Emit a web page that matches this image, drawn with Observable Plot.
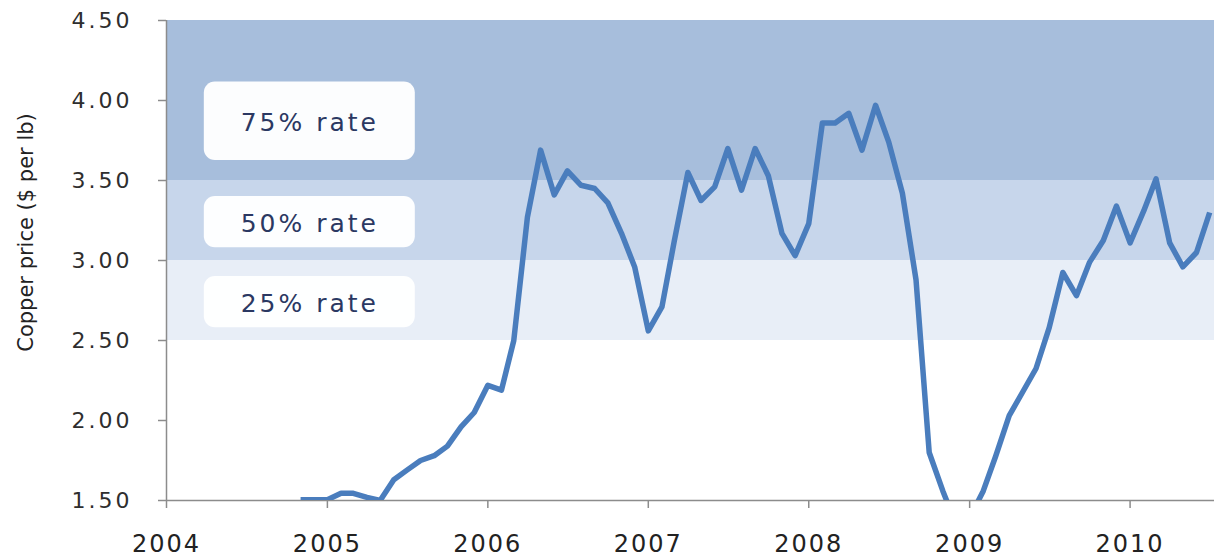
<!DOCTYPE html>
<html>
<head>
<meta charset="utf-8">
<script src="https://cdn.jsdelivr.net/npm/d3@7"></script>
<script src="https://cdn.jsdelivr.net/npm/@observablehq/plot@0.6"></script>
<style>
  html, body { margin: 0; padding: 0; background: #ffffff; }
  #chart svg { display: block; }
  g[aria-label="y-axis tick label"] text { letter-spacing: 3px; }
  g[aria-label="x-axis tick label"] text { letter-spacing: 2px; }
</style>
</head>
<body>
<div id="chart"></div>
<script>
// ---- Data ----
const months = [
  "2004-11","2004-12",
  "2005-01","2005-02","2005-03","2005-04","2005-05","2005-06","2005-07","2005-08","2005-09","2005-10","2005-11","2005-12",
  "2006-01","2006-02","2006-03","2006-04","2006-05","2006-06","2006-07","2006-08","2006-09","2006-10","2006-11","2006-12",
  "2007-01","2007-02","2007-03","2007-04","2007-05","2007-06","2007-07","2007-08","2007-09","2007-10","2007-11","2007-12",
  "2008-01","2008-02","2008-03","2008-04","2008-05","2008-06","2008-07","2008-08","2008-09","2008-10","2008-11","2008-12",
  "2009-01","2009-02","2009-03","2009-04","2009-05","2009-06","2009-07","2009-08","2009-09","2009-10","2009-11","2009-12",
  "2010-01","2010-02","2010-03","2010-04","2010-05","2010-06","2010-07"
];
const copperPrice = [
  1.505, 1.505,
  1.505, 1.545, 1.545, 1.52, 1.50, 1.63, 1.69, 1.75, 1.78, 1.84, 1.96, 2.05,
  2.22, 2.19, 2.50, 3.27, 3.69, 3.41, 3.56, 3.47, 3.45, 3.36, 3.17, 2.96,
  2.56, 2.71, 3.12, 3.55, 3.375, 3.46, 3.70, 3.44, 3.70, 3.53, 3.17, 3.03,
  3.23, 3.86, 3.86, 3.92, 3.69, 3.97, 3.74, 3.42, 2.88, 1.80, 1.56, 1.35,
  1.39, 1.56, 1.775, 2.03, 2.175, 2.325, 2.58, 2.925, 2.78, 2.99, 3.125, 3.34,
  3.11, 3.31, 3.51, 3.11, 2.96, 3.05, 3.30
];
const yearTicks = ["2004","2005","2006","2007","2008","2009","2010"];
const yTicks = [1.5, 2.0, 2.5, 3.0, 3.5, 4.0, 4.5];
const bandNames = ["25% rate", "50% rate", "75% rate"];
const bandLow  = [2.5, 3.0, 3.5];
const bandHigh = [3.0, 3.5, 4.5];
const yLabel = "Copper price ($ per lb)";

// ---- Build tables ----
const parseMonth = d3.utcParse("%Y-%m");
const parseYear = d3.utcParse("%Y");
const series = months.map((m, i) => ({date: parseMonth(m), price: copperPrice[i]}));
const bands = bandNames.map((name, i) => ({name, lo: bandLow[i], hi: bandHigh[i]}));

// layout (annotation placement)
const xStart = new Date(Date.UTC(2004, 0, 1));
const xEnd = new Date(Date.UTC(2010, 6, 12));
const boxX1 = new Date(Date.UTC(2004, 2, 27));
const boxX2 = new Date(Date.UTC(2005, 6, 20));
const boxCenter = [2.74, 3.24, 3.87];
const boxHalf = [0.16, 0.16, 0.245];
const bandColors = ["#e8eef7", "#c7d6eb", "#a7bedc"];
const labels = bands.map((b, i) => ({name: b.name, c: boxCenter[i], h: boxHalf[i]}));
const boxMid = new Date((+boxX1 + +boxX2) / 2);

const chart = Plot.plot({
  width: 1214,
  height: 558,
  marginLeft: 166,
  marginRight: 0,
  marginTop: 20,
  marginBottom: 58,
  style: {fontFamily: "'DejaVu Sans', Verdana, sans-serif", background: "transparent"},
  x: {type: "utc", domain: [xStart, xEnd]},
  y: {domain: [1.5, 4.5]},
  marks: [
    Plot.rect(bands, {
      x1: () => xStart, x2: () => xEnd,
      y1: "lo", y2: "hi",
      fill: (d, i) => bandColors[i]
    }),
    Plot.rect(labels, {
      x1: () => boxX1, x2: () => boxX2,
      y1: d => d.c - d.h, y2: d => d.c + d.h,
      fill: "#ffffff", fillOpacity: 0.96, rx: 11
    }),
    Plot.text(labels, {
      x: () => boxMid, y: "c", dy: 2,
      text: "name", fontSize: 25, fill: "#2b3862"
    }),
    // axes
    Plot.ruleX([xStart], {stroke: "#8c8c8c", strokeWidth: 1.5}),
    Plot.ruleY([1.5], {stroke: "#8c8c8c", strokeWidth: 1.5}),
    Plot.axisY({ticks: yTicks, tickSize: 8, tickPadding: 26, tickFormat: d3.format(".2f"),
      stroke: "#8c8c8c", strokeWidth: 1.5,
      fontSize: 22, fill: "#2e2e2e", label: null}),
    Plot.axisX({ticks: yearTicks.map(parseYear), tickSize: 8, stroke: "#8c8c8c", strokeWidth: 1.5,
      tickPadding: 26, tickFormat: d3.utcFormat("%Y"), fontSize: 24, fill: "#222222", label: null}),
    // the price line
    Plot.line(series, {x: "date", y: "price", stroke: "#4a7dbd", strokeWidth: 5.5,
      strokeLinejoin: "round", strokeLinecap: "butt", clip: true}),
    // y axis title
    Plot.text([yLabel], {frameAnchor: "left", textAnchor: "middle", dx: -140, dy: -28, rotate: -90,
      fontSize: 21, fill: "#222222"})
  ]
});
// letter spacing for the rate labels
d3.select(chart).selectAll("text")
  .filter(function () { return bandNames.includes(this.textContent); })
  .style("letter-spacing", "3px");
document.getElementById("chart").appendChild(chart);
</script>
</body>
</html>
